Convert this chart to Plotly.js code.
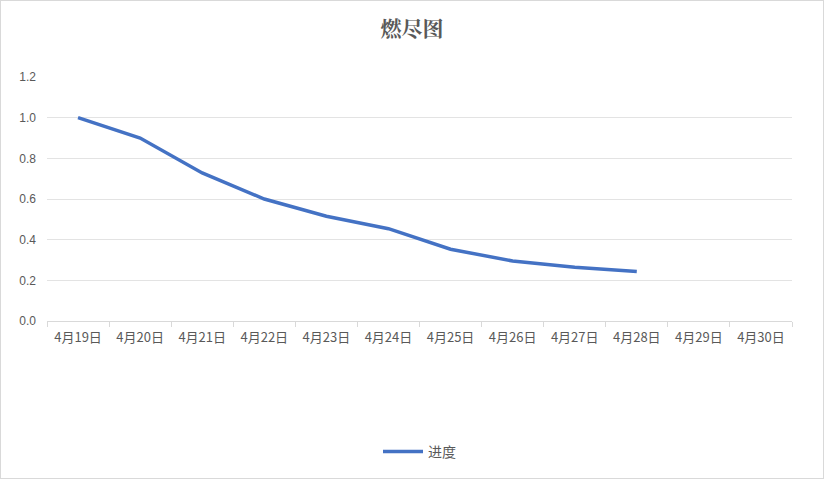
<!DOCTYPE html>
<html>
<head>
<meta charset="utf-8">
<script src="https://cdn.plot.ly/plotly-3.0.1.min.js"></script>
<style>
html,body{margin:0;padding:0;background:#fff;}
#chart{width:822px;height:477px;border:1px solid #d9d9d9;}
</style>
</head>
<body>
<div id="chart"></div>
<script>
const categories = ["4月19日","4月20日","4月21日","4月22日","4月23日","4月24日","4月25日","4月26日","4月27日","4月28日","4月29日","4月30日"];
const progress = [1.0, 0.90, 0.728, 0.60, 0.515, 0.454, 0.353, 0.295, 0.264, 0.243, null, null];
const seriesName = "进度";
const yTicks = [0, 0.2, 0.4, 0.6, 0.8, 1.0, 1.2];

const trace = {
  x: categories,
  y: progress,
  type: 'scatter',
  mode: 'lines',
  name: seriesName,
  line: {color: '#4472C4', width: 3.5, shape: 'linear'},
  connectgaps: false,
  hoverinfo: 'x+y'
};
const layout = {
  width: 822, height: 477,
  margin: {l: 46, r: 31, t: 76, b: 156},
  paper_bgcolor: '#fff', plot_bgcolor: '#fff',
  title: {text: '燃尽图', x: 0.5, xanchor: 'center', y: 0.943, yanchor: 'middle',
    font: {family: '"Noto Serif CJK SC", "Noto Sans CJK SC", serif', size: 21, color: '#595959', weight: 'bold'}},
  showlegend: true,
  legend: {orientation: 'h', x: 0.5, xanchor: 'center', y: -0.53, yanchor: 'middle',
    itemwidth: 40,
    font: {family: '"Noto Sans CJK SC", sans-serif', size: 14, color: '#595959'}},
  xaxis: {
    type: 'category', categoryorder: 'array', categoryarray: categories,
    tickmode: 'array', tickvals: categories, ticktext: categories,
    tickson: 'boundaries', ticks: 'outside', ticklen: 5, tickcolor: '#d9d9d9',
    showline: true, linecolor: '#d9d9d9', linewidth: 1,
    showgrid: false, zeroline: false,
    tickfont: {family: '"Noto Sans CJK SC", sans-serif', size: 13, color: '#595959'},
    ticklabelstandoff: 4,
    range: [-0.5, categories.length - 0.5], fixedrange: true
  },
  yaxis: {
    range: [0, 1.2], tickvals: yTicks, tickformat: '.1f',
    showgrid: true, gridcolor: '#e3e3e3', gridwidth: 1,
    zeroline: false, showline: false, ticks: '',
    tickfont: {family: '"Liberation Sans", sans-serif', size: 12, color: '#595959'},
    ticklabelstandoff: 10, fixedrange: true
  }
};
Plotly.newPlot('chart', [trace], layout, {displayModeBar: false, staticPlot: true});
</script>
</body>
</html>
